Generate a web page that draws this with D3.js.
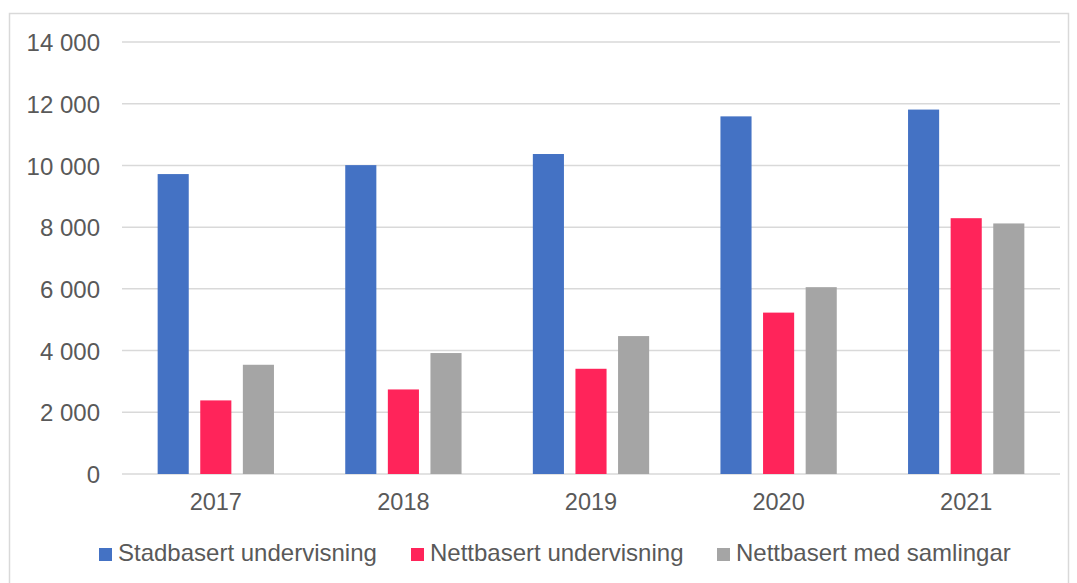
<!DOCTYPE html>
<html>
<head>
<meta charset="utf-8">
<script src="https://cdn.jsdelivr.net/npm/d3@7"></script>
<style>
  body { margin: 0; background: #fff; }
  svg { display: block; font-family: "Liberation Sans", Arial, sans-serif; }
</style>
</head>
<body>
<svg id="chart"></svg>
<script>
// data
var years = ["2017", "2018", "2019", "2020", "2021"];
var seriesNames = ["Stadbasert undervisning", "Nettbasert undervisning", "Nettbasert med samlingar"];
var stadbasert = [9720, 10010, 10370, 11590, 11810];
var nettbasert = [2385, 2740, 3410, 5230, 8290];
var samlingar = [3540, 3920, 4470, 6055, 8120];
var yTicks = [0, 2000, 4000, 6000, 8000, 10000, 12000, 14000];
var colors = ["#4472C4", "#FF245A", "#A5A5A5"];

var W = 1077, H = 583;
var margin = {top: 42, right: 17, bottom: 109, left: 122},
    width = W - margin.left - margin.right,
    height = H - margin.top - margin.bottom;

var svg = d3.select("#chart").attr("width", W).attr("height", H);

// outer chart border
svg.append("rect")
  .attr("x", 9.5).attr("y", 13.5)
  .attr("width", 1059).attr("height", 575)
  .attr("fill", "none")
  .attr("stroke", "#d9d9d9")
  .attr("stroke-width", 1.5);

var g = svg.append("g").attr("transform", `translate(${margin.left}, ${margin.top})`);

var rows = years.map(function(yr, i) {
  return {year: yr, values: [stadbasert[i], nettbasert[i], samlingar[i]]};
});

var x0 = d3.scaleBand().domain(years).range([0, width]).paddingInner(0.38).paddingOuter(0.19);
var x1 = d3.scaleBand().domain([0, 1, 2]).range([0, x0.bandwidth()]).paddingInner(0.27);
var y = d3.scaleLinear().domain([0, 14000]).range([height, 0]);

// gridlines
g.append("g")
  .selectAll("line")
  .data(yTicks)
  .enter().append("line")
    .attr("x1", 0).attr("x2", width)
    .attr("y1", d => y(d)).attr("y2", d => y(d))
    .attr("stroke", "#d9d9d9")
    .attr("stroke-width", 1.5);

// y axis labels
var fmt = d => d3.format(",")(d).replace(/,/g, " ");
var yAxis = g.append("g")
  .call(d3.axisLeft(y).tickValues(yTicks).tickFormat(fmt).tickSize(0).tickPadding(22));
yAxis.select(".domain").remove();
yAxis.selectAll("text").attr("fill", "#595959").attr("dy", "0.36em").style("font-size", "24px");

// bars
g.append("g")
  .selectAll("g")
  .data(rows)
  .enter().append("g")
    .attr("transform", d => `translate(${x0(d.year)}, 0)`)
  .selectAll("rect")
  .data(d => d.values)
  .enter().append("rect")
    .attr("x", (d, i) => x1(i))
    .attr("width", x1.bandwidth())
    .attr("y", d => y(d))
    .attr("height", d => height - y(d))
    .attr("fill", (d, i) => colors[i]);

// x axis labels
var xAxis = g.append("g")
  .attr("transform", `translate(0, ${height})`)
  .call(d3.axisBottom(x0).tickSize(0));
xAxis.select(".domain").remove();
xAxis.selectAll("text")
  .attr("y", 36).attr("dy", 0)
  .attr("fill", "#595959")
  .style("font-size", "23.5px");

// legend
var legendX = [99, 411, 717];
var legend = svg.append("g")
  .selectAll("g")
  .data(seriesNames)
  .enter().append("g")
    .attr("transform", (d, i) => `translate(${legendX[i]}, 561)`);
legend.append("rect")
  .attr("x", 0).attr("y", -13)
  .attr("width", 13).attr("height", 13)
  .attr("fill", (d, i) => colors[i]);
legend.append("text")
  .attr("x", 19).attr("y", 0)
  .attr("fill", "#595959")
  .style("font-size", "24px")
  .text(d => d);
</script>
</body>
</html>
